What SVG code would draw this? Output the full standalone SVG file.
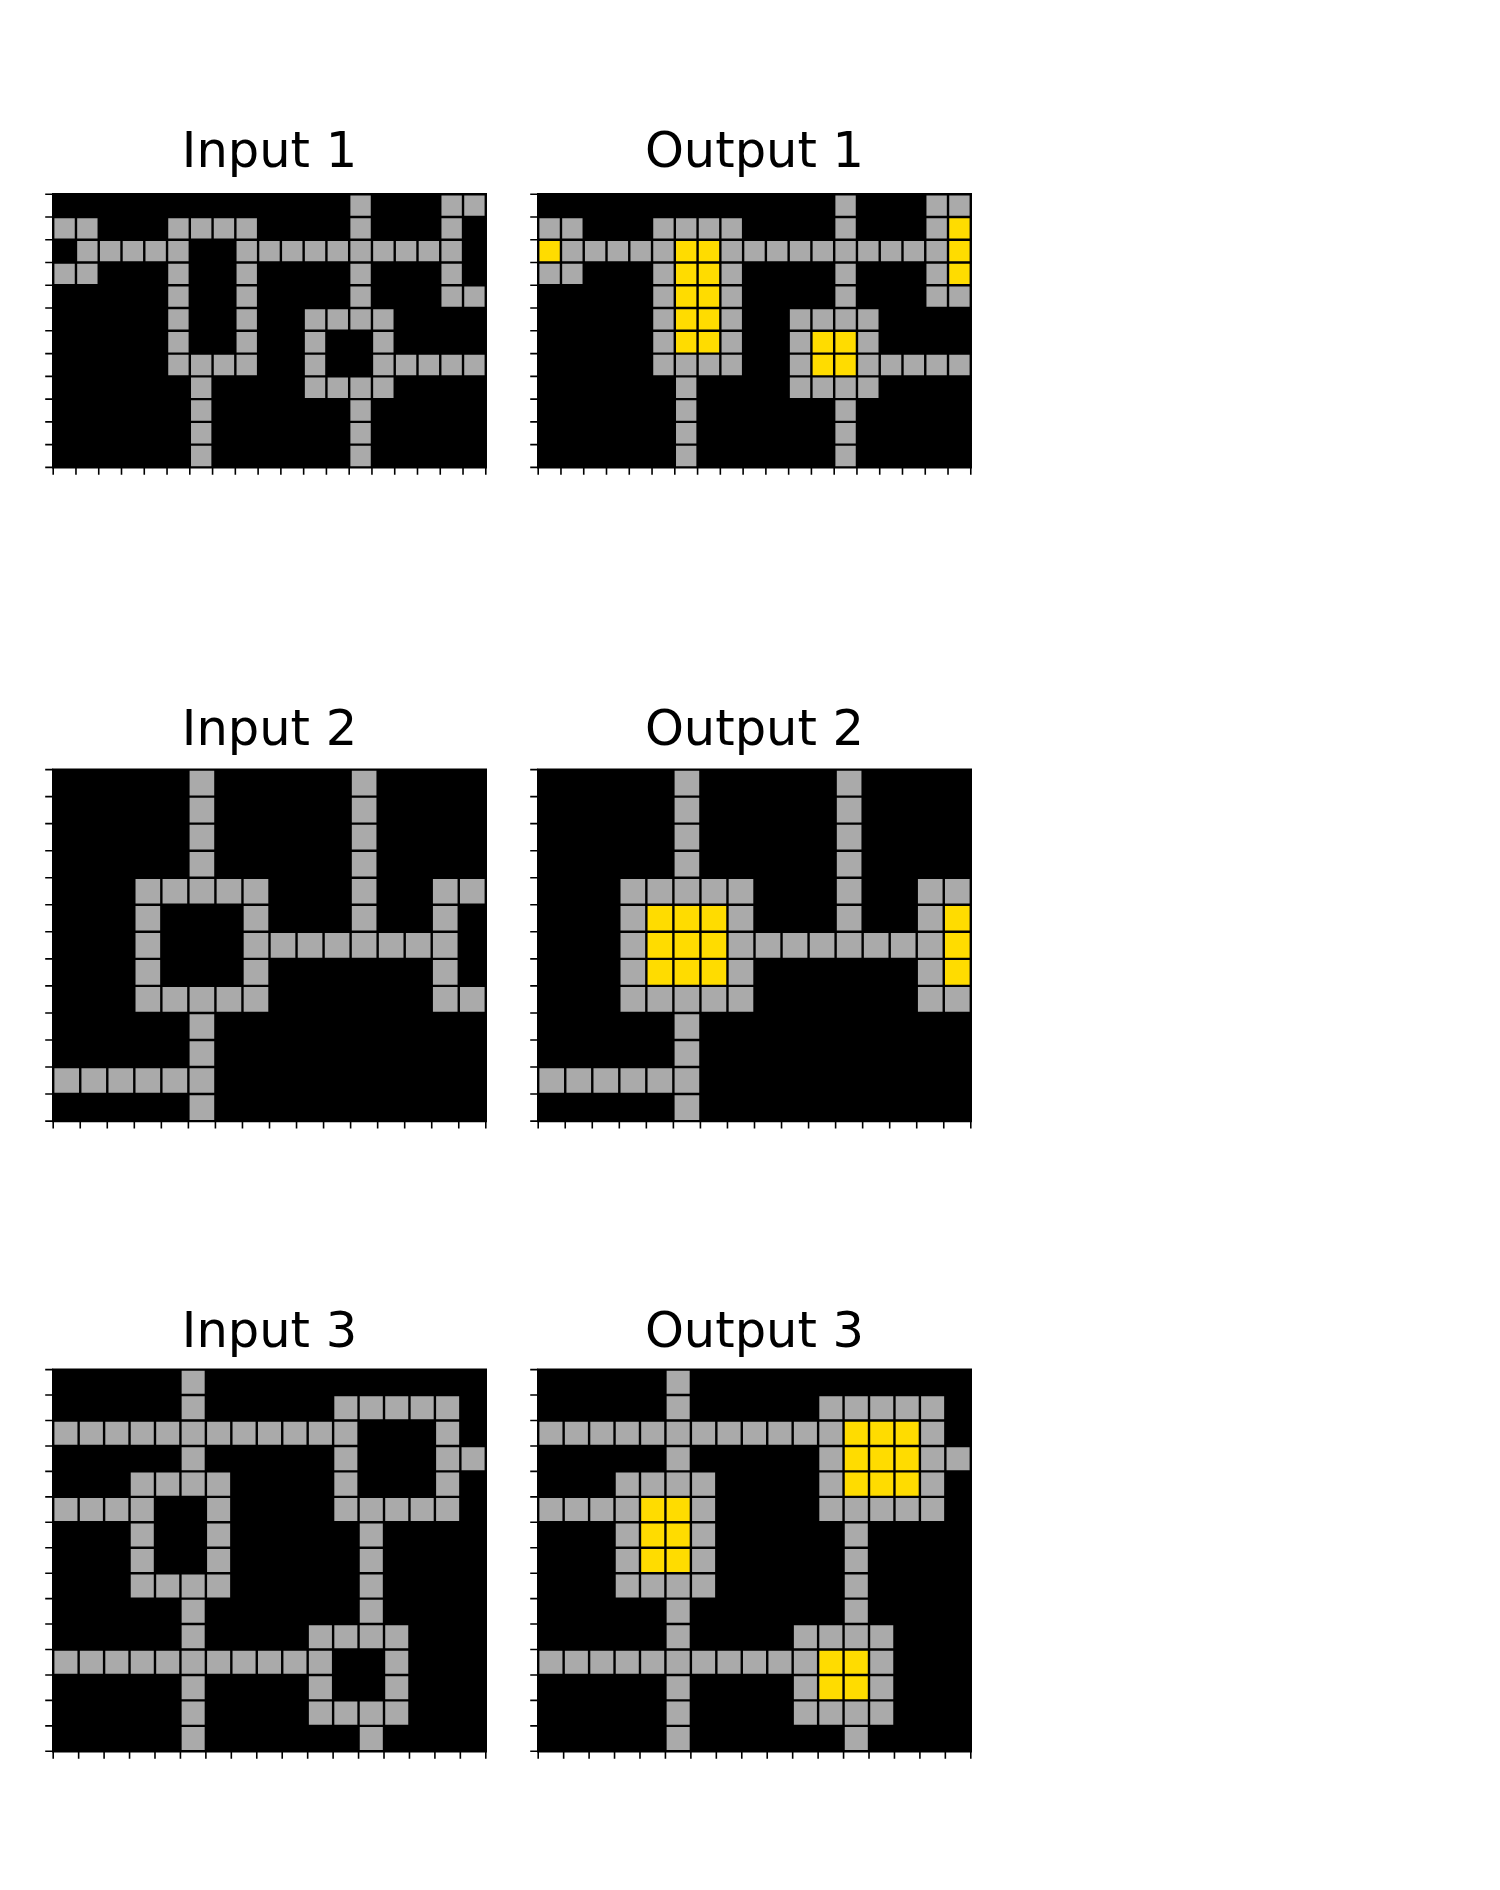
<svg xmlns="http://www.w3.org/2000/svg" xmlns:xlink="http://www.w3.org/1999/xlink" width="1500" height="1890" viewBox="0 0 1500 1890">
<style>
.bg{fill:#000000}
.g{fill:#AAAAAA}
.y{fill:#FFDC00}
.ln{fill:none;stroke:#000000;stroke-width:2.4;stroke-linecap:square;vector-effect:non-scaling-stroke}
.tk{fill:none;stroke:#000000;stroke-width:1.6;vector-effect:non-scaling-stroke}
.t{font-family:"DejaVu Sans","Liberation Sans",sans-serif;font-size:49.5px;fill:#000000;text-anchor:middle}
</style>
<defs>
<g id="cells1">
<rect class="g" x="13" y="0" width="1" height="1"/><rect class="g" x="17" y="0" width="2" height="1"/>
<rect class="g" x="0" y="1" width="2" height="1"/><rect class="g" x="5" y="1" width="4" height="1"/><rect class="g" x="13" y="1" width="1" height="1"/><rect class="g" x="17" y="1" width="1" height="1"/>
<rect class="g" x="1" y="2" width="5" height="1"/><rect class="g" x="8" y="2" width="10" height="1"/>
<rect class="g" x="0" y="3" width="2" height="1"/><rect class="g" x="5" y="3" width="1" height="4"/><rect class="g" x="8" y="3" width="1" height="4"/><rect class="g" x="13" y="3" width="1" height="2"/><rect class="g" x="17" y="3" width="1" height="1"/>
<rect class="g" x="17" y="4" width="2" height="1"/>
<rect class="g" x="11" y="5" width="4" height="1"/>
<rect class="g" x="11" y="6" width="1" height="2"/><rect class="g" x="14" y="6" width="1" height="1"/>
<rect class="g" x="5" y="7" width="4" height="1"/><rect class="g" x="14" y="7" width="5" height="1"/>
<rect class="g" x="6" y="8" width="1" height="4"/><rect class="g" x="11" y="8" width="4" height="1"/>
<rect class="g" x="13" y="9" width="1" height="3"/>
</g>
<g id="cells2">
<rect class="g" x="5" y="0" width="1" height="4"/><rect class="g" x="11" y="0" width="1" height="6"/>
<rect class="g" x="3" y="4" width="5" height="1"/><rect class="g" x="14" y="4" width="2" height="1"/>
<rect class="g" x="3" y="5" width="1" height="3"/><rect class="g" x="7" y="5" width="1" height="3"/><rect class="g" x="14" y="5" width="1" height="3"/>
<rect class="g" x="7" y="6" width="8" height="1"/>
<rect class="g" x="3" y="8" width="5" height="1"/><rect class="g" x="14" y="8" width="2" height="1"/>
<rect class="g" x="5" y="9" width="1" height="4"/>
<rect class="g" x="0" y="11" width="6" height="1"/>
</g>
<g id="cells3">
<rect class="g" x="5" y="0" width="1" height="4"/>
<rect class="g" x="11" y="1" width="5" height="1"/>
<rect class="g" x="0" y="2" width="12" height="1"/><rect class="g" x="15" y="2" width="1" height="3"/>
<rect class="g" x="11" y="3" width="1" height="2"/><rect class="g" x="16" y="3" width="1" height="1"/>
<rect class="g" x="3" y="4" width="4" height="1"/>
<rect class="g" x="0" y="5" width="4" height="1"/><rect class="g" x="6" y="5" width="1" height="3"/><rect class="g" x="11" y="5" width="5" height="1"/>
<rect class="g" x="3" y="6" width="1" height="2"/><rect class="g" x="12" y="6" width="1" height="4"/>
<rect class="g" x="3" y="8" width="4" height="1"/>
<rect class="g" x="5" y="9" width="1" height="6"/>
<rect class="g" x="10" y="10" width="4" height="1"/>
<rect class="g" x="0" y="11" width="11" height="1"/><rect class="g" x="13" y="11" width="1" height="2"/>
<rect class="g" x="10" y="12" width="1" height="1"/>
<rect class="g" x="10" y="13" width="4" height="1"/>
<rect class="g" x="12" y="14" width="1" height="1"/>
</g>
<g id="frame1">
<path class="ln" d="M0 0V12M1 0V12M2 0V12M3 0V12M4 0V12M5 0V12M6 0V12M7 0V12M8 0V12M9 0V12M10 0V12M11 0V12M12 0V12M13 0V12M14 0V12M15 0V12M16 0V12M17 0V12M18 0V12M19 0V12M0 0H19M0 1H19M0 2H19M0 3H19M0 4H19M0 5H19M0 6H19M0 7H19M0 8H19M0 9H19M0 10H19M0 11H19M0 12H19"/>
<path class="tk" d="M-0.351 0H0M-0.351 1H0M-0.351 2H0M-0.351 3H0M-0.351 4H0M-0.351 5H0M-0.351 6H0M-0.351 7H0M-0.351 8H0M-0.351 9H0M-0.351 10H0M-0.351 11H0M-0.351 12H0M0 12V12.32M1 12V12.32M2 12V12.32M3 12V12.32M4 12V12.32M5 12V12.32M6 12V12.32M7 12V12.32M8 12V12.32M9 12V12.32M10 12V12.32M11 12V12.32M12 12V12.32M13 12V12.32M14 12V12.32M15 12V12.32M16 12V12.32M17 12V12.32M18 12V12.32M19 12V12.32"/>
</g>
<g id="frame2">
<path class="ln" d="M0 0V13M1 0V13M2 0V13M3 0V13M4 0V13M5 0V13M6 0V13M7 0V13M8 0V13M9 0V13M10 0V13M11 0V13M12 0V13M13 0V13M14 0V13M15 0V13M16 0V13M0 0H16M0 1H16M0 2H16M0 3H16M0 4H16M0 5H16M0 6H16M0 7H16M0 8H16M0 9H16M0 10H16M0 11H16M0 12H16M0 13H16"/>
<path class="tk" d="M-0.296 0H0M-0.296 1H0M-0.296 2H0M-0.296 3H0M-0.296 4H0M-0.296 5H0M-0.296 6H0M-0.296 7H0M-0.296 8H0M-0.296 9H0M-0.296 10H0M-0.296 11H0M-0.296 12H0M-0.296 13H0M0 13V13.27M1 13V13.27M2 13V13.27M3 13V13.27M4 13V13.27M5 13V13.27M6 13V13.27M7 13V13.27M8 13V13.27M9 13V13.27M10 13V13.27M11 13V13.27M12 13V13.27M13 13V13.27M14 13V13.27M15 13V13.27M16 13V13.27"/>
</g>
<g id="frame3">
<path class="ln" d="M0 0V15M1 0V15M2 0V15M3 0V15M4 0V15M5 0V15M6 0V15M7 0V15M8 0V15M9 0V15M10 0V15M11 0V15M12 0V15M13 0V15M14 0V15M15 0V15M16 0V15M17 0V15M0 0H17M0 1H17M0 2H17M0 3H17M0 4H17M0 5H17M0 6H17M0 7H17M0 8H17M0 9H17M0 10H17M0 11H17M0 12H17M0 13H17M0 14H17M0 15H17"/>
<path class="tk" d="M-0.314 0H0M-0.314 1H0M-0.314 2H0M-0.314 3H0M-0.314 4H0M-0.314 5H0M-0.314 6H0M-0.314 7H0M-0.314 8H0M-0.314 9H0M-0.314 10H0M-0.314 11H0M-0.314 12H0M-0.314 13H0M-0.314 14H0M-0.314 15H0M0 15V15.29M1 15V15.29M2 15V15.29M3 15V15.29M4 15V15.29M5 15V15.29M6 15V15.29M7 15V15.29M8 15V15.29M9 15V15.29M10 15V15.29M11 15V15.29M12 15V15.29M13 15V15.29M14 15V15.29M15 15V15.29M16 15V15.29M17 15V15.29"/>
</g>
</defs>
<rect x="0" y="0" width="1500" height="1890" fill="#ffffff"/>

<g id="input1">
<text class="t" x="269.5" y="166.7">Input 1</text>
<g transform="translate(53.2,194.2) scale(22.768)">
<rect class="bg" x="0" y="0" width="19" height="12"/>
<use href="#cells1"/>
<use href="#frame1"/>
</g>
</g>
<g id="output1">
<text class="t" x="754.5" y="166.7">Output 1</text>
<g transform="translate(538.2,194.2) scale(22.768)">
<rect class="bg" x="0" y="0" width="19" height="12"/>
<use href="#cells1"/>
<rect class="y" x="18" y="1" width="1" height="3"/>
<rect class="y" x="0" y="2" width="1" height="1"/>
<rect class="y" x="6" y="2" width="2" height="5"/>
<rect class="y" x="12" y="6" width="2" height="2"/>
<use href="#frame1"/>
</g>
</g>

<g id="input2">
<text class="t" x="269.5" y="744.5">Input 2</text>
<g transform="translate(53.2,769.6) scale(27.0375)">
<rect class="bg" x="0" y="0" width="16" height="13"/>
<use href="#cells2"/>
<use href="#frame2"/>
</g>
</g>
<g id="output2">
<text class="t" x="754.5" y="744.5">Output 2</text>
<g transform="translate(538.2,769.6) scale(27.0375)">
<rect class="bg" x="0" y="0" width="16" height="13"/>
<use href="#cells2"/>
<rect class="y" x="4" y="5" width="3" height="3"/>
<rect class="y" x="15" y="5" width="1" height="3"/>
<use href="#frame2"/>
</g>
</g>

<g id="input3">
<text class="t" x="269.5" y="1346.7">Input 3</text>
<g transform="translate(53.2,1369.6) scale(25.447)">
<rect class="bg" x="0" y="0" width="17" height="15"/>
<use href="#cells3"/>
<use href="#frame3"/>
</g>
</g>
<g id="output3">
<text class="t" x="754.5" y="1346.7">Output 3</text>
<g transform="translate(538.2,1369.6) scale(25.447)">
<rect class="bg" x="0" y="0" width="17" height="15"/>
<use href="#cells3"/>
<rect class="y" x="12" y="2" width="3" height="3"/>
<rect class="y" x="4" y="5" width="2" height="3"/>
<rect class="y" x="11" y="11" width="2" height="2"/>
<use href="#frame3"/>
</g>
</g>
</svg>
